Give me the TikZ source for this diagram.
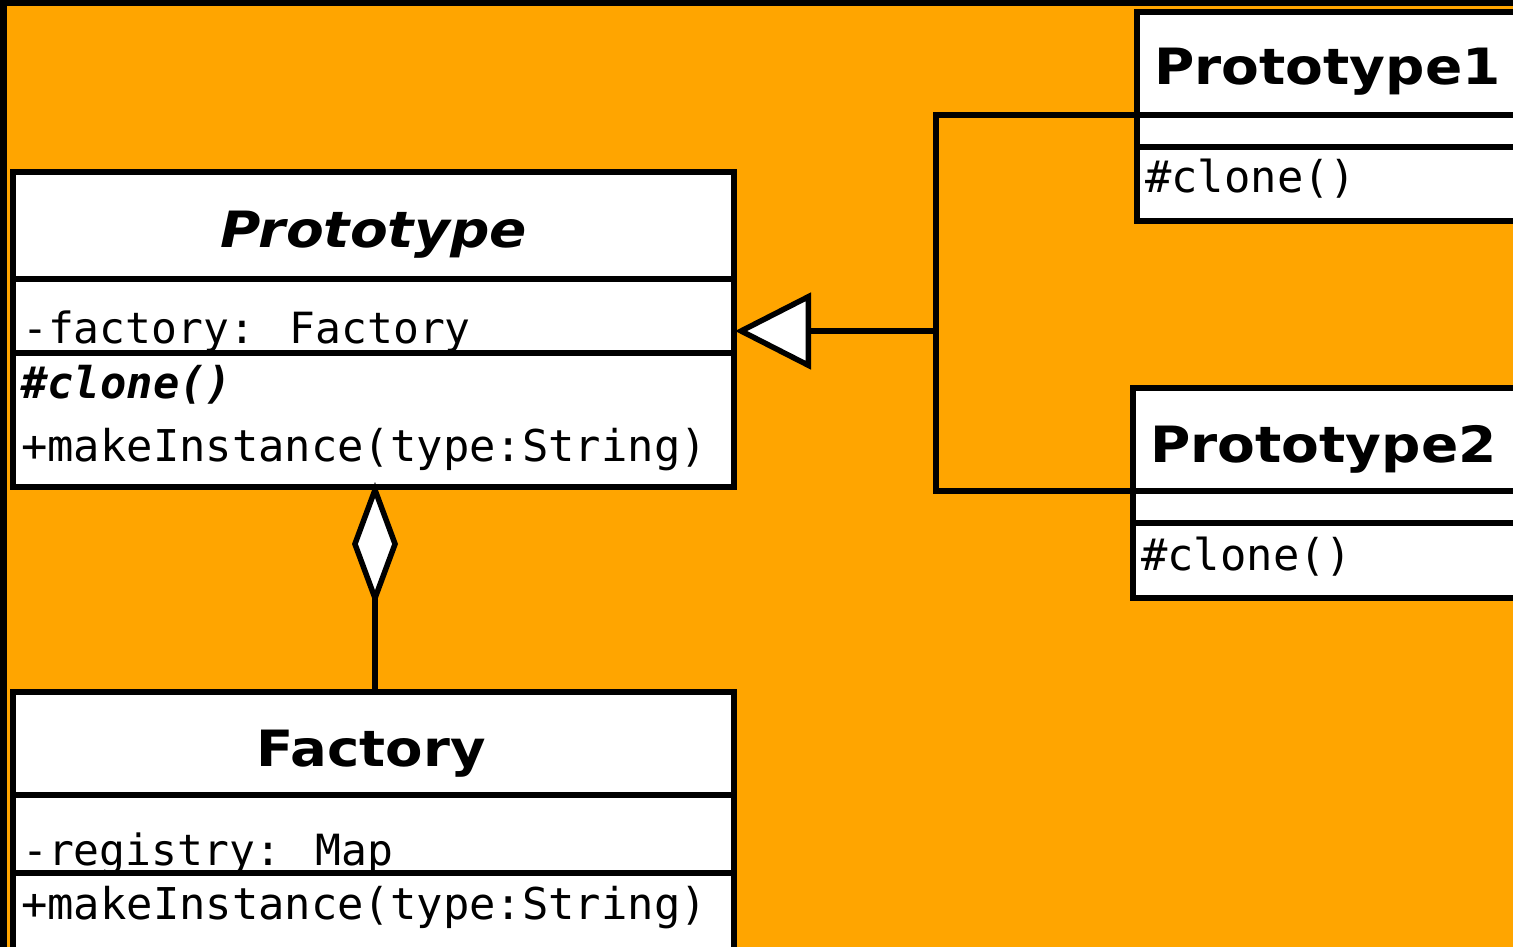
\documentclass[tikz,border=0pt]{standalone}
\usepackage{fontspec}
\usepackage{graphicx}
\setmainfont{DejaVu Sans}
\newfontfamily\umlmono{DejaVu Sans Mono}
\usetikzlibrary{arrows.meta}

\definecolor{bgorange}{HTML}{FFA500}

\tikzset{
  classbox/.style={draw=black, fill=white, line width=5.5pt, inner sep=0pt,
    outer sep=0pt, anchor=north west, line join=miter},
  compart/.style={draw=black, line width=5.5pt},
  classtitle/.style={inner sep=0pt, font=\bfseries\fontsize{50}{60}\selectfont},
  member/.style={inner sep=0pt, anchor=base west, font=\umlmono\fontsize{43.8}{50}\selectfont},
  attrib/.style={member, font=\umlmono\fontsize{43}{50}\selectfont},
  link/.style={draw=black, line width=5.5pt, line join=miter},
  inherit/.style={link, -{Triangle[open, fill=white, length=76pt, width=76pt]}},
  aggreg/.style={link, -{Diamond[open, fill=white, length=124pt, width=46pt]}}
}

\begin{document}
\begin{tikzpicture}[x=1pt, y=-1pt]
  \path[use as bounding box] (0,0) rectangle (1513,947);
  \clip (0,0) rectangle (1513,947);
  \fill[black] (0,0) rectangle (1513,947);
  \fill[bgorange] (7,6) rectangle (1513,947);

  % abstract class Prototype
  \node[classbox, minimum width=721pt, minimum height=315pt] (proto) at (13,172) {};
  \draw[compart] (proto.west |- 0,279) -- (proto.east |- 0,279);
  \draw[compart] (proto.west |- 0,353) -- (proto.east |- 0,353);
  \node[classtitle, anchor=base] (protoname) at (373.5,247)
    {\scalebox{1.1}[1]{\itshape Prototype}};
  \node[attrib] (protoattr) at (22,343) {-factory: Factory};
  \node[member] (protoclone) at (21,398) {\bfseries\itshape \#clone()};
  \node[member] (protomake) at (21,461) {+makeInstance(type:String)};

  % class Factory
  \node[classbox, minimum width=721pt, minimum height=258pt] (factory) at (13,692) {};
  \draw[compart] (factory.west |- 0,795) -- (factory.east |- 0,795);
  \draw[compart] (factory.west |- 0,873) -- (factory.east |- 0,873);
  \node[classtitle, anchor=base] (factoryname) at (371,766)
    {\scalebox{1.09}[1]{Factory}};
  \node[attrib] (factoryattr) at (22,865) {-registry: Map};
  \node[member] (factorymake) at (21,919) {+makeInstance(type:String)};

  % concrete class Prototype1
  \node[classbox, minimum width=460pt, minimum height=209pt] (pone) at (1137,12) {};
  \draw[compart] (pone.west |- 0,115) -- (pone.east |- 0,115);
  \draw[compart] (pone.west |- 0,147) -- (pone.east |- 0,147);
  \node[classtitle, anchor=base west] (ponename) at (1154,85)
    {\scalebox{1.1}[1]{Prototype1}};
  \node[member] (poneclone) at (1145,193) {\#clone()};

  % concrete class Prototype2
  \node[classbox, minimum width=460pt, minimum height=210pt] (ptwo) at (1133,388) {};
  \draw[compart] (ptwo.west |- 0,491) -- (ptwo.east |- 0,491);
  \draw[compart] (ptwo.west |- 0,523) -- (ptwo.east |- 0,523);
  \node[classtitle, anchor=base west] (ptwoname) at (1150,462)
    {\scalebox{1.1}[1]{Prototype2}};
  \node[member] (ptwoclone) at (1141,570) {\#clone()};

  % generalisation: both subclasses join a common trunk
  \coordinate (trunk) at (936,331);
  \draw[link] (pone.west |- 0,115) -| (trunk);
  \draw[link] (ptwo.west |- 0,491) -| (trunk);
  \draw[inherit] (trunk) -- ([xshift=1pt]proto.east |- trunk);

  % aggregation: Factory holds the Prototype instances
  \draw[aggreg] (factory.north -| 375,0) -- ([yshift=5pt]proto.south -| 375,0);
\end{tikzpicture}
\end{document}
